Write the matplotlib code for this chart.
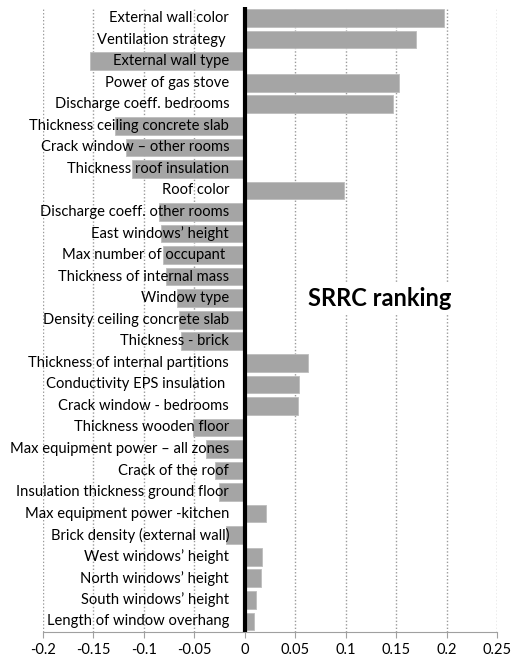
import matplotlib
matplotlib.use("Agg")
import matplotlib.pyplot as plt

# SRRC values, top to bottom
labels = [
    "External wall color", "Ventilation strategy ", "External wall type",
    "Power of gas stove", "Discharge coeff. bedrooms",
    "Thickness ceiling concrete slab", "Crack window \u2013 other rooms",
    "Thickness roof insulation", "Roof color", "Discharge coeff. other rooms",
    "East windows\u2019 height", "Max number of occupant ",
    "Thickness of internal mass", "Window type", "Density ceiling concrete slab",
    "Thickness - brick", "Thickness of internal partitions",
    "Conductivity EPS insulation ", "Crack window - bedrooms",
    "Thickness wooden floor", "Max equipment power \u2013 all zones",
    "Crack of the roof", "Insulation thickness ground floor",
    "Max equipment power -kitchen", "Brick density (external wall)",
    "West windows\u2019 height", "North windows\u2019 height",
    "South windows\u2019 height", "Length of window overhang",
]
srrc = [
    0.1975, 0.170, -0.153, 0.1525, 0.147,
    -0.129, -0.118, -0.112, 0.0985, -0.085,
    -0.083, -0.081, -0.078, -0.067, -0.065,
    -0.063, 0.063, 0.054, 0.053, -0.051,
    -0.038, -0.030, -0.026, 0.021, -0.0185,
    0.0165, 0.016, 0.0115, 0.009,
]
xticks = [-0.2, -0.15, -0.1, -0.05, 0, 0.05, 0.1, 0.15, 0.2, 0.25]
xticklabels = ["-0.2", "-0.15", "-0.1", "-0.05", "0", "0.05", "0.1", "0.15", "0.2", "0.25"]

plt.rcParams['font.family'] = ['Lato', 'DejaVu Sans']

fig = plt.figure(figsize=(5.12, 6.64), dpi=100)
ax = fig.add_axes([0.084, 0.048, 0.887, 0.941])

ypos = list(range(len(labels)))
ax.barh(ypos, srrc, height=0.82, color="#a5a5a5", edgecolor="#bdbdbd",
        linewidth=0.6, zorder=2)

# labels sit just left of the zero line
for y, lab in zip(ypos, labels):
    ax.text(-0.0155, y, lab, ha="right", va="center", fontsize=10.6,
            color="#000000", zorder=3)

ax.axvline(0, color="black", linewidth=3, zorder=4)

ax.set_xlim(-0.2, 0.25)
ax.set_ylim(len(labels) - 0.5, -0.5)
ax.set_xticks(xticks)
ax.set_xticklabels(xticklabels, fontsize=10.5)
ax.set_yticks([])
ax.xaxis.grid(True, linestyle=(0, (1, 1.5)), color="#9a9a9a", linewidth=1, zorder=0)
ax.set_axisbelow(True)

for side in ["left", "right", "top"]:
    ax.spines[side].set_visible(False)
ax.spines["bottom"].set_color("#a0a0a0")
ax.tick_params(axis="x", length=4, color="#a0a0a0", pad=4)

ax.text(0.134, 13, "SRRC ranking", fontsize=17, fontweight="bold",
        ha="center", va="center", zorder=5,
        bbox=dict(facecolor="white", edgecolor="none", pad=3))

fig.savefig("out.png", dpi=100)
